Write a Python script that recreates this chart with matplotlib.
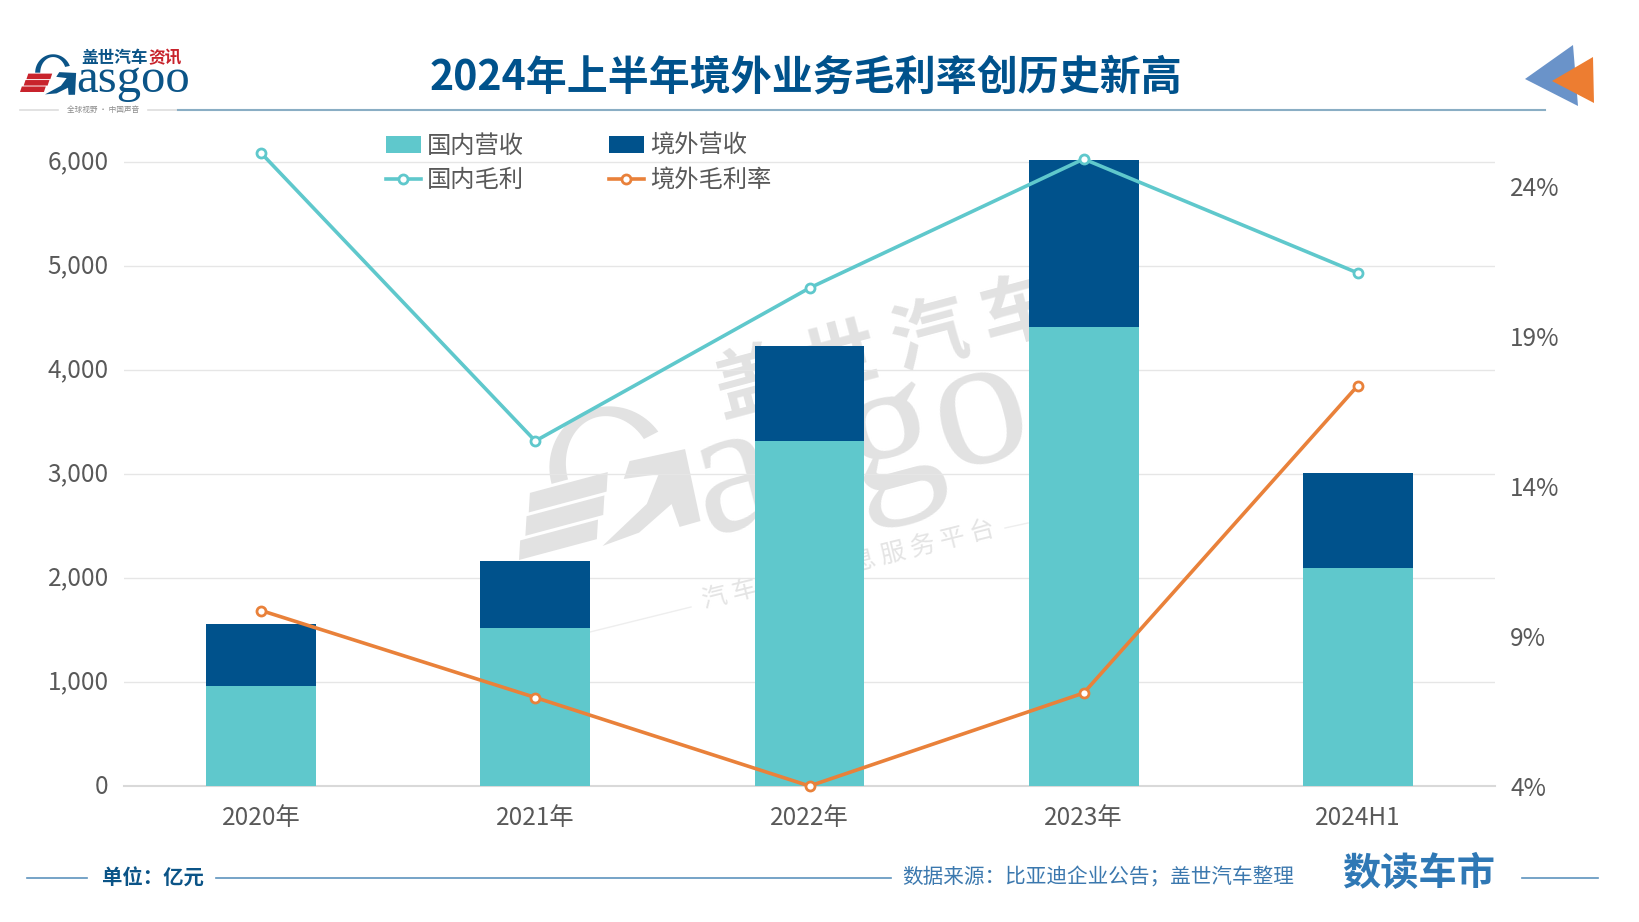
import matplotlib
matplotlib.use('Agg')
import matplotlib.pyplot as plt
from matplotlib.lines import Line2D
from matplotlib.patches import Patch, Polygon
from matplotlib.ticker import FuncFormatter
from matplotlib.transforms import Affine2D, ScaledTranslation
import numpy as np

plt.rcParams['font.family'] = ['Noto Sans CJK SC', 'DejaVu Sans']

# 数据
categories = ['2020年', '2021年', '2022年', '2023年', '2024H1']
domestic_revenue = [965, 1515, 3320, 4410, 2095]
overseas_revenue = [595, 645, 915, 1610, 910]
domestic_margin = [25.1, 15.5, 20.6, 24.9, 21.1]
overseas_margin = [9.85, 6.95, 4.0, 7.1, 17.35]
left_ticks = [0, 1000, 2000, 3000, 4000, 5000, 6000]
right_ticks = [4, 9, 14, 19, 24]

TEAL = '#5fc8cc'
NAVY = '#00528c'
ORANGE = '#e9813a'
TEXT_GREY = '#595959'
MARK_GREY = '#e2e2e2'

W, H = 1640, 922
fig = plt.figure(figsize=(W / 100, H / 100), dpi=100, facecolor='white')

# 背景层，用像素坐标画 logo、水印和页眉页脚
bg = fig.add_axes([0, 0, 1, 1], zorder=0)
bg.set_xlim(0, W)
bg.set_ylim(H, 0)
bg.axis('off')


def draw_g(x, y, scale, angle, stripe_color, body_color):
    """画 logo 里的 G 和三条斜杠，(x, y) 为左下角"""
    tr = Affine2D().scale(scale).rotate_deg(-angle).translate(x, y) + bg.transData
    stripes = [
        [(9, -20), (35, -20), (33, -14), (7, -14)],
        [(6, -13), (32, -13), (30, -7), (4, -7)],
        [(2, -6), (28, -6), (26, 0), (0, 0)],
    ]
    for pts in stripes:
        bg.add_patch(Polygon(pts, closed=True, fc=stripe_color, ec='none', transform=tr))
    # 上半圆弧，右下角留口
    t = np.linspace(np.pi, 0.12 * np.pi, 40)
    outer = np.c_[36 + 19.5 * np.cos(t), -21 - 20 * np.sin(t)]
    inner = np.c_[36 + 14 * np.cos(t), -21 - 17 * np.sin(t)]
    bg.add_patch(Polygon(np.r_[outer, inner[::-1]], closed=True, fc=body_color,
                         ec='none', transform=tr))
    body = [(42.7, -21.6), (61, -20.7), (59.8, 3), (52.8, 3.1), (52.2, -4.7), (39.7, 1.5),
            (27.2, 2.6), (44.5, -6.8), (50.7, -15.1), (39.4, -16.5)]
    bg.add_patch(Polygon(body, closed=True, fc=body_color, ec='none', transform=tr))


# 水印
draw_g(519, 560, 3.1, 15, MARK_GREY, MARK_GREY)
bg.text(706, 535, 'asgoo', family='Liberation Serif', fontsize=135, color=MARK_GREY,
        rotation=15, rotation_mode='anchor', ha='left', va='baseline')
bg.text(886, 350, '盖 世 汽 车', fontsize=54, fontweight='bold', color=MARK_GREY,
        rotation=15, rotation_mode='anchor', ha='center', va='center')
bg.text(849, 565, '汽 车 产 业 信 息 服 务 平 台', fontsize=18, color='#e4e4e4',
        rotation=14, rotation_mode='anchor', ha='center', va='center')
bg.plot([590, 691], [632, 607], color='#eeeeee', lw=1)
bg.plot([1005, 1028], [528, 523], color='#eeeeee', lw=1)

# 左上角 logo
draw_g(20, 92, 0.92, 0, '#c8232c', '#0b5487')
bg.text(76, 92, 'asgoo', family='Liberation Serif', fontsize=35, color='#0b5487',
        ha='left', va='baseline')
bg.text(81, 58, '盖世汽车', fontsize=12, fontweight='bold', color='#0b5487', ha='left', va='center')
bg.text(148, 58, '资讯', fontsize=12, fontweight='bold', color='#c8232c', ha='left', va='center')
bg.text(103, 110, '全球视野 · 中国声音', fontsize=5.5, color='#8c8c8c', ha='center', va='center')
bg.plot([20, 58], [110, 110], color='#dddddd', lw=1.2)
bg.plot([148, 178], [110, 110], color='#dddddd', lw=1.2)

# 标题和右上角三角
bg.plot([178, 1545], [110, 110], color='#8aaec4', lw=1.5)
bg.text(806, 78, '2024年上半年境外业务毛利率创历史新高', fontsize=29.5, fontweight='bold',
        color='#00528c', ha='center', va='center')
bg.add_patch(Polygon([(1525, 79), (1573, 45), (1578, 106)], closed=True, fc='#6a93c9', ec='none'))
bg.add_patch(Polygon([(1552, 81), (1593, 57), (1594, 103)], closed=True, fc='#ed7d31', ec='none'))

# 页脚
for x0, x1 in [(27, 87), (216, 891), (1522, 1598)]:
    bg.plot([x0, x1], [878, 878], color='#5d93bd', lw=1.2)
bg.text(102, 878, '单位：亿元', fontsize=14.7, fontweight='bold', color='#0b5487', ha='left', va='center')
bg.text(902, 878, '数据来源：比亚迪企业公告；盖世汽车整理', fontsize=14.85, color='#3b78ae',
        ha='left', va='center')
bg.text(1419, 873, '数读车市', fontsize=27.5, fontweight='bold', color='#2f78b5', ha='center', va='center')

# 主图：左轴到 6400 才放得下超出 6000 的点和柱
px_per_1000 = 104.0
px_per_pct = 30.0
left_top = 6400
ax_h = left_top / 1000 * px_per_1000
ax = fig.add_axes([124 / W, (H - 786) / H, (1495 - 124) / W, ax_h / H], zorder=1)
ax.patch.set_alpha(0)

x = np.arange(len(categories))
bar_w = 0.4
ax.bar(x, domestic_revenue, bar_w, color=TEAL, zorder=3)
ax.bar(x, overseas_revenue, bar_w, bottom=domestic_revenue, color=NAVY, zorder=3)

ax.set_xlim(-0.5, len(categories) - 0.5)
ax.set_ylim(0, left_top)
ax.set_xticks(x)
ax.set_xticklabels(categories)
ax.set_yticks(left_ticks)
ax.yaxis.set_major_formatter(FuncFormatter(lambda v, _: f'{int(v):,}'))
ax.tick_params(axis='x', length=0, pad=13.5, labelsize=17.5, labelcolor=TEXT_GREY)
ax.tick_params(axis='y', length=0, pad=11, labelsize=17.5, labelcolor=TEXT_GREY)
ax.grid(axis='y', color='#e6e6e6', lw=1, zorder=1)
ax.set_axisbelow(True)
for side in ['top', 'right', 'left']:
    ax.spines[side].set_visible(False)
ax.spines['bottom'].set_color('#d9d9d9')
ax.spines['bottom'].set_linewidth(1.5)

# 左轴标签略微上移
offset = ScaledTranslation(0, 2.5 / 100, fig.dpi_scale_trans)
for lab in ax.get_yticklabels():
    lab.set_transform(lab.get_transform() + offset)

# 右轴：折线
ax2 = ax.twinx()
ax2.set_ylim(4, 4 + ax_h / px_per_pct)
ax2.set_yticks(right_ticks)
ax2.yaxis.set_major_formatter(FuncFormatter(lambda v, _: f'{int(v)}%'))
ax2.tick_params(axis='y', length=0, pad=11, labelsize=17.5, labelcolor=TEXT_GREY)
for side in ax2.spines:
    ax2.spines[side].set_visible(False)

line_kw = dict(lw=2.6, marker='o', ms=6.5, mfc='white', mew=2, clip_on=False, zorder=5)
ax2.plot(x, domestic_margin, color=TEAL, **line_kw)
ax2.plot(x, overseas_margin, color=ORANGE, **line_kw)

handles = [
    Patch(fc=TEAL, ec='none'),
    Line2D([], [], color=TEAL, lw=2.6, marker='o', ms=6.5, mfc='white', mew=2),
    Patch(fc=NAVY, ec='none'),
    Line2D([], [], color=ORANGE, lw=2.6, marker='o', ms=6.5, mfc='white', mew=2),
]
labels = ['国内营收', '国内毛利', '境外营收', '境外毛利率']
leg = ax2.legend(handles, labels, ncol=2, loc='upper left', frameon=False, fontsize=17.5,
                 labelcolor=TEXT_GREY, bbox_to_anchor=(386 / W, (H - 133) / H),
                 bbox_transform=fig.transFigure, borderpad=0, borderaxespad=0,
                 handlelength=1.42, handletextpad=0.27, columnspacing=3.5, labelspacing=0.33)

fig.savefig('out.png', dpi=100, facecolor='white')
